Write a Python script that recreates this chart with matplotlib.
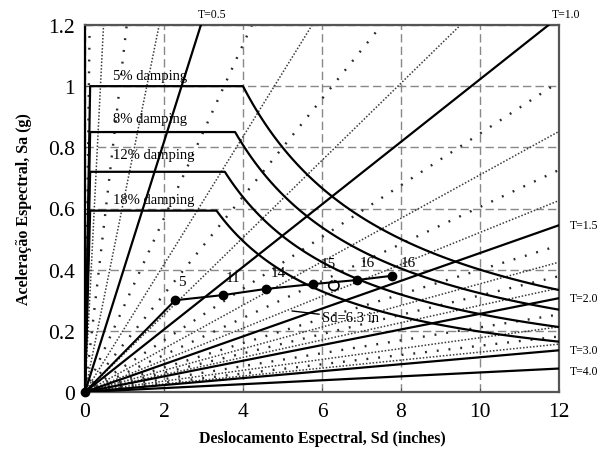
import numpy as np
import matplotlib
matplotlib.use("Agg")
import matplotlib.pyplot as plt
from matplotlib.patches import Arc

plt.rcParams['font.family'] = ['Liberation Serif', 'DejaVu Serif']

# gravity in in/s^2, used to turn period lines into ADRS slopes
g = 386.1

# constant-period radial lines
periods_solid = [0.5, 1.0, 1.5, 2.0, 3.0, 4.0]
periods_sparse = [0.1, 0.3, 0.6, 0.8, 1.1, 1.3, 1.6, 1.8, 2.2, 2.6]
periods_dense = [0.2, 0.4, 0.7, 0.9, 1.2, 1.4, 1.7, 1.9, 2.4, 2.8]

# demand spectra (plateau + constant-velocity branch)
damping = ['5%', '8%', '12%', '18%']
plateau_sa = [1.0, 0.85, 0.72, 0.593]
corner_sd = [4.0, 3.8, 3.54, 3.33]
plateau_start_sd = 0.13
damping_label_sa = [1.035, 0.895, 0.775, 0.63]

# capacity curve (pushover steps)
cap_sd = [0.0, 2.28, 3.5, 4.58, 5.78, 6.88, 7.77]
cap_sa = [0.0, 0.30, 0.317, 0.337, 0.353, 0.366, 0.38]
step_labels = ['5', '11', '14', '15', '16', '16']
step_label_sd = [2.46, 3.75, 4.89, 6.15, 7.14, 8.18]
step_label_sa = [0.36, 0.373, 0.392, 0.419, 0.425, 0.425]

perf_sd = 6.3
perf_sa = 0.348

xmax, ymax = 12, 1.2

fig = plt.figure(figsize=(5.99, 4.52), dpi=100)
ax = fig.add_axes([85 / 599, 59 / 452, 474 / 599, 367 / 452])


def period_line(T, **kw):
    slope = 4 * np.pi ** 2 / (T ** 2 * g)
    x_end = min(xmax, ymax / slope)
    ax.plot([0, x_end], [0, slope * x_end], **kw)


for T in periods_sparse:
    period_line(T, color='#2a2a2a', lw=1.7, ls=(0, (0.8, 4.2)), zorder=2)
for T in periods_dense:
    period_line(T, color='#3a3a3a', lw=1.1, ls=(0, (1, 1.2)), zorder=2)
for T in periods_solid:
    period_line(T, color='black', lw=1.6, zorder=3)

# demand spectra
for lab, sa, sd_c, ly in zip(damping, plateau_sa, corner_sd, damping_label_sa):
    sd_tail = np.linspace(sd_c, xmax, 100)
    xs = np.concatenate([[0, plateau_start_sd], sd_tail])
    ys = np.concatenate([[0, sa], sa * sd_c / sd_tail])
    ax.plot(xs, ys, color='black', lw=1.6, zorder=3)
    ax.text(0.71, ly, lab + ' damping', fontsize=10.5, ha='left', va='center',
            zorder=4)

# capacity curve
ax.plot(cap_sd, cap_sa, color='black', lw=1.5, marker='o', ms=6,
        zorder=5, clip_on=False)
for s, x, y in zip(step_labels, step_label_sd, step_label_sa):
    ax.text(x, y, s, fontsize=11, ha='center', va='center', zorder=5)

# performance point marker and note
ax.add_patch(Arc((perf_sd, perf_sa), 0.26, 0.032, theta1=150, theta2=470,
                 color='black', lw=1.2, zorder=5))
ax.annotate('Sd=6.3 in', xy=(5.24, 0.265), xytext=(6.0, 0.242),
            fontsize=10.5, ha='left', va='center',
            arrowprops=dict(arrowstyle='-', color='black', lw=1.0,
                            shrinkA=0, shrinkB=0), zorder=5)

# period labels outside the frame
ax.text(3.22, 1.236, 'T=0.5', fontsize=8.5, ha='center', va='center', clip_on=False)
ax.text(12.18, 1.236, 'T=1.0', fontsize=8.5, ha='center', va='center', clip_on=False)
ax.text(12.28, 0.546, 'T=1.5', fontsize=8.5, ha='left', va='center', clip_on=False)
ax.text(12.28, 0.306, 'T=2.0', fontsize=8.5, ha='left', va='center', clip_on=False)
ax.text(12.28, 0.138, 'T=3.0', fontsize=8.5, ha='left', va='center', clip_on=False)
ax.text(12.28, 0.069, 'T=4.0', fontsize=8.5, ha='left', va='center', clip_on=False)

ax.set_xlim(0, xmax)
ax.set_ylim(0, ymax)
ax.set_xticks([0, 2, 4, 6, 8, 10, 12])
ax.set_xticklabels(['0', '2', '4', '6', '8', '10', '12'])
ax.set_yticks([0, 0.2, 0.4, 0.6, 0.8, 1.0, 1.2])
ax.set_yticklabels(['0', '0.2', '0.4', '0.6', '0.8', '1', '1.2'])
ax.tick_params(direction='in', length=3, labelsize=15.5, pad=7, color='#555555')
ax.grid(True, ls=(0, (6, 3)), color='#888888', lw=1.0)
ax.set_axisbelow(True)
for side in ['top', 'right', 'bottom']:
    ax.spines[side].set_color('#555555')
    ax.spines[side].set_linewidth(1.6)
ax.spines['left'].set_color('black')
ax.spines['left'].set_linewidth(1.6)

ax.set_xlabel('Deslocamento Espectral, Sd (inches)', fontsize=11.5,
              fontweight='bold', labelpad=7)
ax.set_ylabel('Aceleração Espectral, Sa (g)', fontsize=11.5,
              fontweight='bold', labelpad=12)

fig.savefig('out.png', dpi=100)
